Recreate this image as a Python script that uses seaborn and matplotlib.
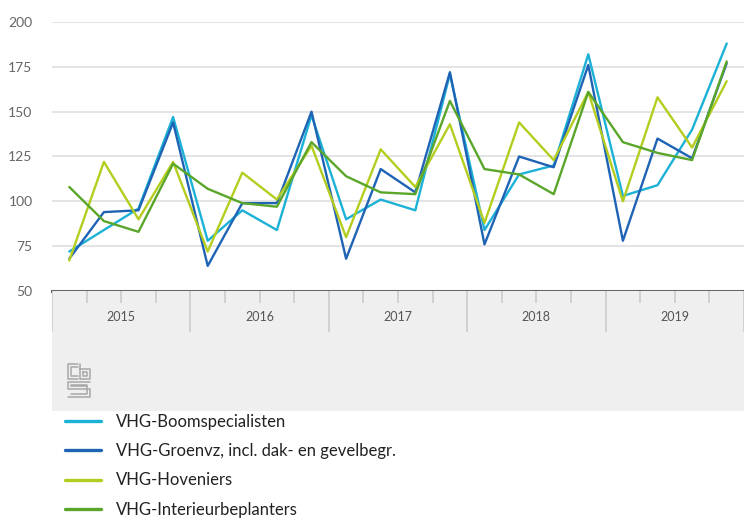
import numpy as np
import pandas as pd
import matplotlib
matplotlib.use("Agg")
import matplotlib.pyplot as plt
import seaborn as sns

# Quarterly index values 2015-2019
years = ["2015", "2016", "2017", "2018", "2019"]
quarters = [f"{y}-K{q}" for y in years for q in range(1, 5)]

boomspecialisten = [72, 84, 96, 147, 78, 95, 84, 148, 90, 101, 95, 171,
                    84, 115, 120, 182, 103, 109, 140, 188]
groenvz = [68, 94, 95, 144, 64, 99, 99, 150, 68, 118, 105, 172,
           76, 125, 119, 176, 78, 135, 124, 177]
hoveniers = [67, 122, 90, 122, 72, 116, 101, 131, 80, 129, 108, 143,
             88, 144, 123, 161, 100, 158, 130, 167]
interieur = [108, 89, 83, 121, 107, 99, 97, 133, 114, 105, 104, 156,
             118, 115, 104, 161, 133, 127, 123, 178]

series_names = ["VHG-Boomspecialisten",
                "VHG-Groenvz, incl. dak- en gevelbegr.",
                "VHG-Hoveniers",
                "VHG-Interieurbeplanters"]
colors = ["#1cb1d6", "#1f63b5", "#b4cd1e", "#5aa62a"]

rows = []
for name, vals in zip(series_names, [boomspecialisten, groenvz, hoveniers, interieur]):
    for i, v in enumerate(vals):
        rows.append({"idx": i, "kwartaal": quarters[i], "serie": name, "waarde": v})
df = pd.DataFrame(rows)

sns.set_style("white")
plt.rcParams["font.family"] = ["Lato", "DejaVu Sans"]

W, H = 744, 521
fig = plt.figure(figsize=(W / 100, H / 100), dpi=100)

left, right = 52, 744
top, axis_y, panel_bottom = 22, 291, 411

ax = fig.add_axes([left / W, 1 - axis_y / H, (right - left) / W, (axis_y - top) / H])
sns.lineplot(data=df, x="idx", y="waarde", hue="serie", palette=colors,
             hue_order=series_names, linewidth=1.7, ax=ax, legend=True)
ax.set_xlim(-0.5, len(quarters) - 0.5)
ax.set_ylim(50, 200)
ax.set_yticks([50, 75, 100, 125, 150, 175, 200])
ax.yaxis.grid(True, color="#e4e4e4", linewidth=1.4)
ax.set_axisbelow(True)
ax.set_xticks([])
ax.set_xlabel("")
ax.set_ylabel("")
for s in ["top", "right", "left"]:
    ax.spines[s].set_visible(False)
ax.spines["bottom"].set_color("#666666")
ax.spines["bottom"].set_linewidth(2.2)
ax.tick_params(axis="y", length=0, labelsize=10, labelcolor="#666666", pad=14)
handles, labels = ax.get_legend_handles_labels()
ax.get_legend().remove()

# grey category panel under the axis
ax2 = fig.add_axes([left / W, 1 - panel_bottom / H, (right - left) / W,
                    (panel_bottom - axis_y) / H])
ax2.set_facecolor("#efefef")
ax2.set_xlim(-0.5, len(quarters) - 0.5)
ax2.set_ylim(panel_bottom - axis_y, 0)
ax2.set_xticks([])
ax2.set_yticks([])
for s in ax2.spines.values():
    s.set_visible(False)
bounds = np.arange(len(quarters) + 1) - 0.5
for b in bounds:
    is_year = int(b + 0.5) % 4 == 0
    ax2.vlines(b, 0, 41 if is_year else 12, color="#cccccc", linewidth=1.2)
for k, y in enumerate(years):
    ax2.text(4 * k + 1.5, 26, y, ha="center", va="center", fontsize=9, color="#555555")

# cbs logo (simple outline)
lg = fig.add_axes([67 / W, 1 - 399 / H, 24 / W, 37 / H])
lg.set_xlim(0, 24)
lg.set_ylim(37, 0)
lg.axis("off")
kw = dict(color="#a8a8a8", linewidth=1.1)
lg.plot([11, 1, 1, 11], [2, 2, 17, 17], **kw)
lg.plot([11, 4, 4, 11], [5, 5, 14, 14], **kw)
lg.plot([13, 13, 23, 23, 13], [2, 17, 17, 7, 7], **kw)
lg.plot([16, 16, 20, 20, 16], [10, 14, 14, 10, 10], **kw)
lg.plot([23, 1, 1, 23, 23, 1], [20, 20, 27, 27, 35, 35], **kw)
lg.plot([20, 4, 4, 20, 20, 4], [23, 23, 24, 24, 32, 32], **kw)

leg = fig.legend(handles, labels, loc="upper left",
                 bbox_to_anchor=(58 / W, 1 - 407 / H), frameon=False,
                 fontsize=12, handlelength=2.2, handletextpad=0.9,
                 labelspacing=0.8, borderaxespad=0)
for t in leg.get_texts():
    t.set_color("#222222")
for l in leg.get_lines():
    l.set_linewidth(2.4)

fig.savefig("out.png", dpi=100)
